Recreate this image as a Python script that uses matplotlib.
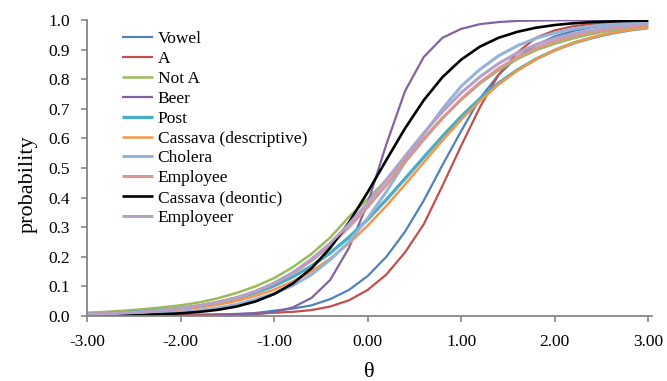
import matplotlib
matplotlib.use("Agg")
import matplotlib.pyplot as plt

theta = [-3.0, -2.8, -2.6, -2.4, -2.2, -2.0, -1.8, -1.6, -1.4, -1.2, -1.0,
         -0.8, -0.6, -0.4, -0.2, 0.0, 0.2, 0.4, 0.6, 0.8, 1.0,
         1.2, 1.4, 1.6, 1.8, 2.0, 2.2, 2.4, 2.6, 2.8, 3.0]

vowel = [0.001, 0.001, 0.001, 0.002, 0.002, 0.003, 0.004, 0.005, 0.007, 0.010, 0.018,
         0.025, 0.036, 0.057, 0.088, 0.135, 0.200, 0.285, 0.390, 0.510, 0.625,
         0.735, 0.815, 0.875, 0.915, 0.945, 0.963, 0.976, 0.984, 0.989, 0.993]
a_item = [0.001, 0.001, 0.001, 0.002, 0.002, 0.003, 0.004, 0.005, 0.006, 0.008, 0.011,
          0.014, 0.020, 0.032, 0.053, 0.088, 0.140, 0.215, 0.310, 0.440, 0.575,
          0.705, 0.815, 0.890, 0.940, 0.965, 0.979, 0.987, 0.991, 0.994, 0.996]
not_a = [0.011, 0.014, 0.018, 0.023, 0.029, 0.036, 0.046, 0.060, 0.078, 0.100, 0.128,
         0.165, 0.210, 0.265, 0.335, 0.395, 0.460, 0.530, 0.600, 0.670, 0.730,
         0.785, 0.830, 0.868, 0.898, 0.920, 0.938, 0.953, 0.965, 0.974, 0.980]
beer = [0.001, 0.001, 0.001, 0.001, 0.001, 0.001, 0.001, 0.002, 0.003, 0.006, 0.013,
        0.029, 0.061, 0.122, 0.230, 0.380, 0.580, 0.760, 0.875, 0.940, 0.970,
        0.986, 0.993, 0.997, 0.998, 0.999, 0.999, 1.000, 1.000, 1.000, 1.000]
post = [0.006, 0.008, 0.011, 0.015, 0.020, 0.026, 0.034, 0.046, 0.060, 0.078, 0.102,
        0.132, 0.169, 0.213, 0.266, 0.326, 0.393, 0.464, 0.536, 0.607, 0.674,
        0.734, 0.787, 0.831, 0.868, 0.898, 0.922, 0.940, 0.955, 0.966, 0.974]
cassava_desc = [0.005, 0.007, 0.009, 0.012, 0.016, 0.021, 0.029, 0.038, 0.051, 0.068, 0.089,
                0.117, 0.151, 0.194, 0.245, 0.305, 0.372, 0.444, 0.519, 0.593, 0.663,
                0.726, 0.782, 0.829, 0.867, 0.898, 0.922, 0.941, 0.956, 0.967, 0.975]
cholera = [0.002, 0.003, 0.004, 0.006, 0.009, 0.013, 0.019, 0.027, 0.039, 0.056, 0.076,
           0.103, 0.140, 0.190, 0.250, 0.330, 0.420, 0.520, 0.615, 0.700, 0.776,
           0.833, 0.879, 0.913, 0.938, 0.956, 0.970, 0.979, 0.985, 0.990, 0.993]
employee = [0.006, 0.008, 0.010, 0.014, 0.019, 0.026, 0.035, 0.047, 0.062, 0.083, 0.110,
            0.144, 0.187, 0.239, 0.300, 0.368, 0.443, 0.520, 0.596, 0.668, 0.733,
            0.789, 0.836, 0.874, 0.905, 0.928, 0.946, 0.960, 0.970, 0.978, 0.984]
cassava_deon = [0.001, 0.002, 0.002, 0.004, 0.006, 0.009, 0.014, 0.021, 0.032, 0.049, 0.074,
                0.110, 0.161, 0.230, 0.316, 0.418, 0.527, 0.634, 0.729, 0.807, 0.866,
                0.910, 0.940, 0.960, 0.974, 0.983, 0.989, 0.993, 0.995, 0.997, 0.998]
employeer = [0.005, 0.007, 0.010, 0.013, 0.018, 0.025, 0.034, 0.046, 0.062, 0.083, 0.111,
             0.147, 0.192, 0.246, 0.310, 0.382, 0.460, 0.540, 0.618, 0.690, 0.754,
             0.808, 0.853, 0.889, 0.917, 0.938, 0.954, 0.966, 0.975, 0.982, 0.987]

labels = ["Vowel", "A", "Not A", "Beer", "Post", "Cassava (descriptive)",
          "Cholera", "Employee", "Cassava (deontic)", "Employeer"]
series = [vowel, a_item, not_a, beer, post, cassava_desc,
          cholera, employee, cassava_deon, employeer]
colors = ["#4F81BD", "#C0504D", "#9BBB59", "#8064A2", "#4BACC6", "#F79646",
          "#95B3D7", "#D99694", "#000000", "#B3A2C7"]
widths = [1.6, 1.6, 1.8, 1.6, 2.4, 1.8, 2.2, 2.2, 1.9, 2.2]

xticks = [-3, -2, -1, 0, 1, 2, 3]
yticks = [0.0, 0.1, 0.2, 0.3, 0.4, 0.5, 0.6, 0.7, 0.8, 0.9, 1.0]

plt.rcParams['font.family'] = ['Liberation Serif', 'DejaVu Serif']

fig = plt.figure(figsize=(6.67, 3.81), dpi=100)
ax = fig.add_axes([87 / 667, 1 - 316 / 381, 565 / 667, 296 / 381])

for ys, lab, c, w in zip(series, labels, colors, widths):
    ax.plot(theta, ys, color=c, lw=w, label=lab, solid_capstyle='butt')

ax.set_xlim(-3, 3.04)
ax.set_ylim(0, 1.0)
ax.set_xticks(xticks)
ax.set_xticklabels([f"{v:.2f}" for v in xticks])
ax.set_yticks(yticks)
ax.set_yticklabels([f"{v:.1f}" for v in yticks])

for s in ["top", "right"]:
    ax.spines[s].set_visible(False)
for s in ["left", "bottom"]:
    ax.spines[s].set_color("#868686")
    ax.spines[s].set_linewidth(1.3)
ax.tick_params(axis='both', colors="#868686", labelcolor="black",
               length=4, width=1.2, labelsize=12.5, direction='out')
ax.tick_params(axis='x', pad=9)
ax.tick_params(axis='y', pad=8)

ax.set_ylabel("probability", fontsize=16, labelpad=8)
ax.yaxis.label.set_y(0.446)
ax.set_xlabel("θ", fontsize=16, labelpad=9)

leg = fig.legend(loc='upper left', bbox_to_anchor=(122 / 667, 1 - 31 / 381),
                 frameon=False, fontsize=12.5, handlelength=1.8,
                 handletextpad=0.25, labelspacing=0.215, borderpad=0,
                 borderaxespad=0)

fig.savefig("out.png", dpi=100)
